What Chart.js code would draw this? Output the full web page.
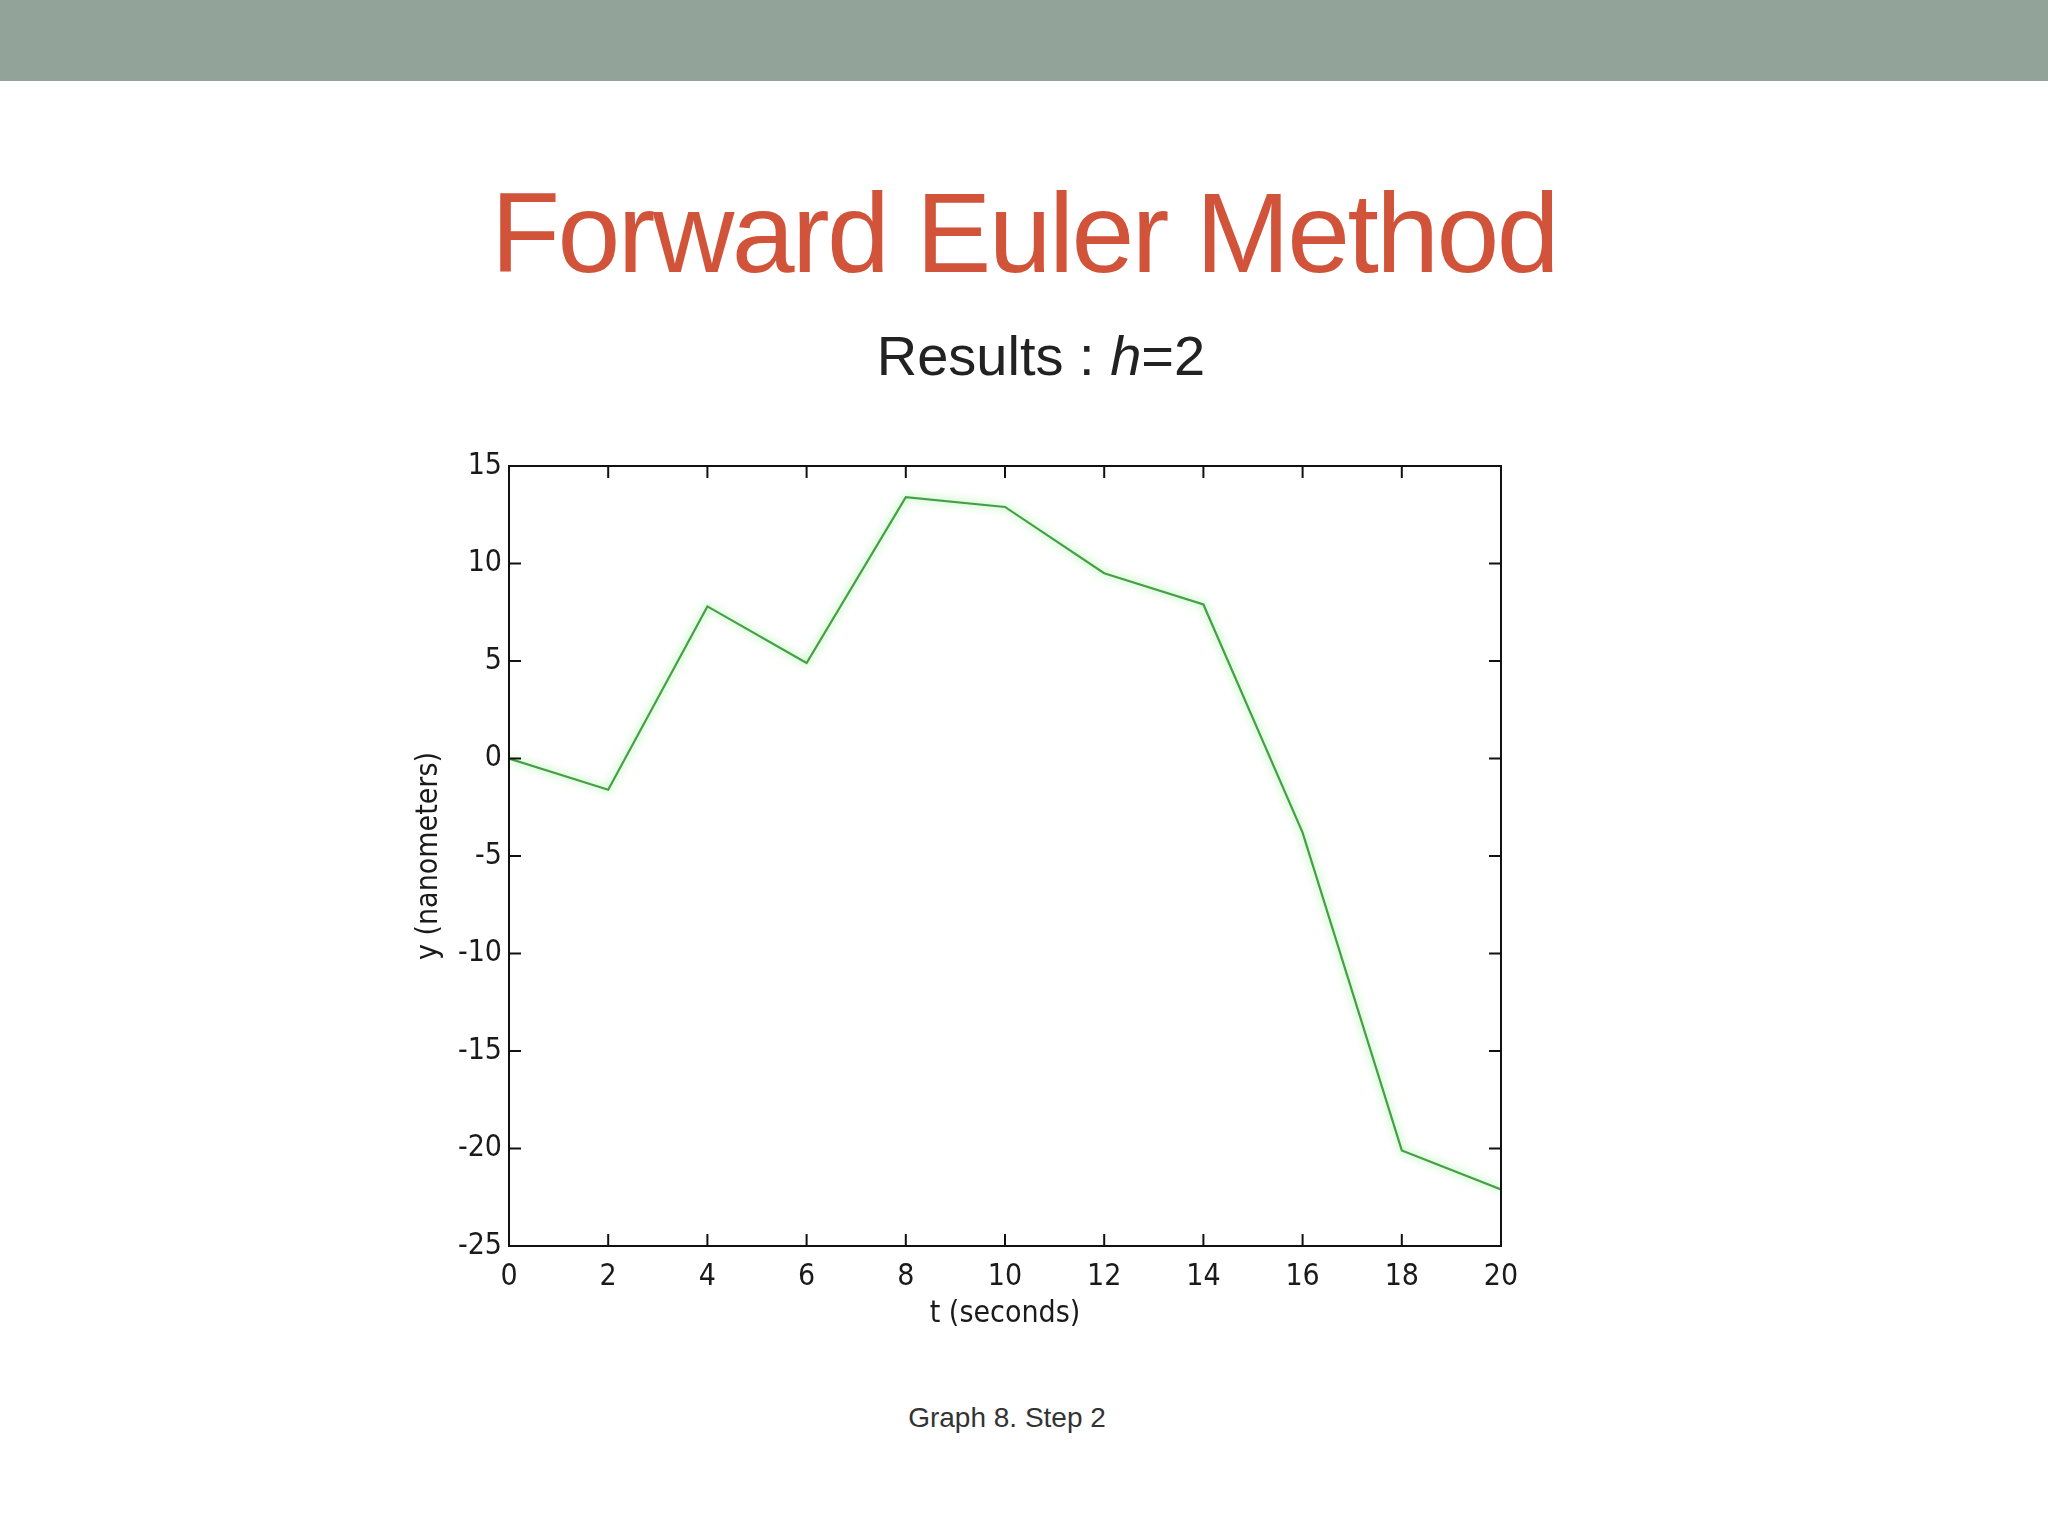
<!DOCTYPE html>
<html>
<head>
<meta charset="utf-8">
<script src="https://cdn.jsdelivr.net/npm/chart.js@4/dist/chart.umd.min.js"></script>
<style>
  html, body { margin: 0; padding: 0; background: #fff; }
  body { width: 2048px; height: 1536px; position: relative; overflow: hidden; font-family: "Liberation Sans", Arial, sans-serif; }
  #banner { position: absolute; left: 0; top: 0; width: 2048px; height: 81px; background: #92a39a; }
  .line { position: absolute; left: 0; width: 2048px; text-align: center; white-space: nowrap; line-height: 1; }
  #title { top: 177px; font-size: 113px; color: #d1533a; letter-spacing: -2.6px; }
  #subtitle { top: 328px; font-size: 56px; color: #222; padding-left: 34px; box-sizing: border-box; }
  #caption { top: 1404px; font-size: 28px; color: #333; padding-right: 34px; box-sizing: border-box; }
  #wrap { position: absolute; left: 380px; top: 440px; width: 1200px; height: 920px; }
</style>
</head>
<body>
<div id="banner"></div>
<div id="title" class="line">Forward Euler Method</div>
<div id="subtitle" class="line">Results : <i>h</i>=2</div>
<div id="wrap"><canvas id="chart" width="1200" height="920"></canvas></div>
<div id="caption" class="line">Graph 8. Step 2</div>

<script>
// t (seconds) and y (nanometers), h = 2
const tValues = [0, 2, 4, 6, 8, 10, 12, 14, 16, 18, 20];
const yValues = [0, -1.6, 7.8, 4.9, 13.4, 12.9, 9.5, 7.9, -3.8, -20.1, -22.1];
const xTicks = [0, 2, 4, 6, 8, 10, 12, 14, 16, 18, 20];
const yTicks = [-25, -20, -15, -10, -5, 0, 5, 10, 15];

const tickFont = { family: '"Liberation Sans Narrow", "DejaVu Sans Condensed", "Liberation Sans", sans-serif', size: 30 };

// MATLAB-style box with inward ticks on all four sides
const boxTicks = {
    id: 'boxTicks',
    beforeDatasetsDraw(chart) {
        const ctx = chart.ctx;
        ctx.save();
        ctx.shadowColor = 'rgba(110, 235, 110, 0.9)';
        ctx.shadowBlur = 8;
    },
    afterDatasetsDraw(chart) {
        chart.ctx.restore();
        const { ctx, chartArea: a, scales } = chart;
        const len = 12;
        ctx.save();
        ctx.strokeStyle = '#111';
        ctx.lineWidth = 2;
        ctx.strokeRect(a.left, a.top, a.right - a.left, a.bottom - a.top);
        ctx.beginPath();
        scales.x.ticks.forEach(t => {
            const px = scales.x.getPixelForValue(t.value);
            ctx.moveTo(px, a.bottom); ctx.lineTo(px, a.bottom - len);
            ctx.moveTo(px, a.top); ctx.lineTo(px, a.top + len);
        });
        scales.y.ticks.forEach(t => {
            const py = scales.y.getPixelForValue(t.value);
            ctx.moveTo(a.left, py); ctx.lineTo(a.left + len, py);
            ctx.moveTo(a.right, py); ctx.lineTo(a.right - len, py);
        });
        ctx.stroke();
        ctx.restore();
    }
};

new Chart(document.getElementById('chart'), {
    type: 'line',
    data: {
        datasets: [{
            data: tValues.map((t, i) => ({ x: t, y: yValues[i] })),
            borderColor: '#45a045',
            borderWidth: 2.2,
            pointRadius: 0,
            tension: 0,
            fill: false
        }]
    },
    options: {
        responsive: false,
        animation: false,
        devicePixelRatio: 1,
        layout: { padding: { top: 26, right: 79, left: 0, bottom: 0 } },
        plugins: { legend: { display: false }, tooltip: { enabled: false } },
        scales: {
            x: {
                type: 'linear',
                min: 0,
                max: 20,
                afterBuildTicks: s => { s.ticks = xTicks.map(v => ({ value: v })); },
                afterFit: s => { s.height = 114; },
                grid: { display: false, drawTicks: false },
                border: { display: false },
                ticks: { color: '#1a1a1a', font: tickFont, padding: 13, maxRotation: 0 },
                title: {
                    display: true,
                    text: 't (seconds)',
                    color: '#1a1a1a',
                    font: tickFont,
                    padding: { top: 0, bottom: 28 }
                }
            },
            y: {
                type: 'linear',
                min: -25,
                max: 15,
                afterBuildTicks: s => { s.ticks = yTicks.map(v => ({ value: v })); },
                afterFit: s => { s.width = 129; },
                grid: { display: false, drawTicks: false },
                border: { display: false },
                ticks: { color: '#1a1a1a', font: tickFont, padding: 7 },
                title: {
                    display: true,
                    text: 'y (nanometers)',
                    color: '#1a1a1a',
                    font: tickFont,
                    padding: { top: 31, bottom: 0 }
                }
            }
        }
    },
    plugins: [boxTicks]
});
</script>
</body>
</html>
